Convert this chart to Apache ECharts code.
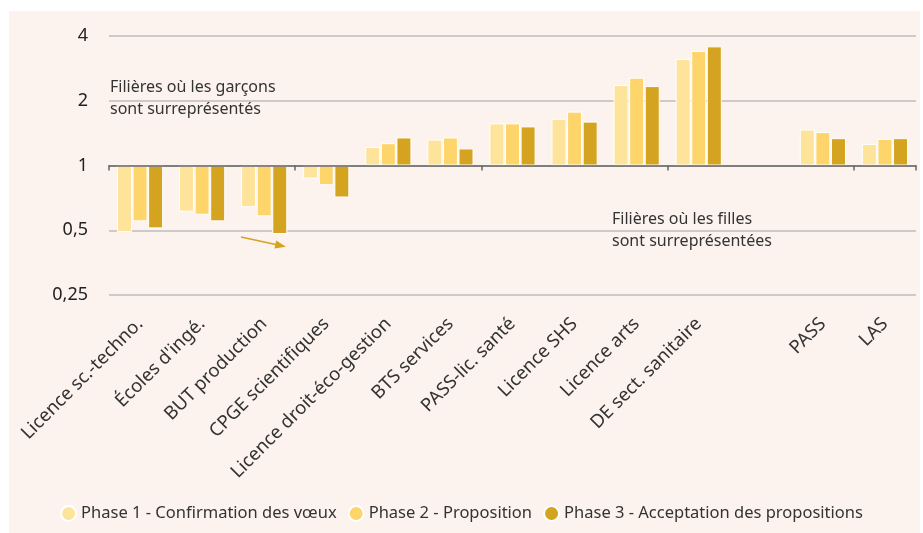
<!DOCTYPE html>
<html>
<head>
<meta charset="utf-8">
<script src="https://cdn.jsdelivr.net/npm/echarts@6/dist/echarts.min.js"></script>
<style>
  html, body { margin: 0; padding: 0; background: #fff; }
  #chart { width: 923px; height: 533px; }
</style>
</head>
<body>
<div id="chart"></div>
<script>
// filières (une catégorie vide sépare PASS / LAS)
const categories = [
  "Licence sc.-techno.", "Écoles d'ingé.", "BUT production", "CPGE scientifiques",
  "Licence droit-éco-gestion", "BTS services", "PASS-lic. santé", "Licence SHS",
  "Licence arts", "DE sect. sanitaire", "", "PASS", "LAS"
];
const phaseNames = [
  "Phase 1 - Confirmation des vœux",
  "Phase 2 - Proposition",
  "Phase 3 - Acceptation des propositions"
];
// ratio filles / garçons
const phase1 = [0.49, 0.61, 0.64, 0.87, 1.22, 1.32, 1.57, 1.65, 2.37, 3.13, null, 1.47, 1.26];
const phase2 = [0.55, 0.59, 0.58, 0.81, 1.27, 1.35, 1.57, 1.78, 2.56, 3.41, null, 1.43, 1.33];
const phase3 = [0.51, 0.55, 0.48, 0.71, 1.35, 1.20, 1.52, 1.60, 2.34, 3.58, null, 1.34, 1.34];
const tickLabels = ["0,25", "0,5", "1", "2", "4"];

const colors = ["#fee39b", "#fdd56b", "#d4a31f"];
const font = "Noto Sans";

// echelle log2 : on trace log2(ratio) sur un axe lineaire, la base des barres est 1
const toLog = (arr) => arr.map(v => (v == null ? "-" : Math.log2(v)));

const mkSeries = (name, arr, i) => ({
  name: name,
  type: "bar",
  xAxisIndex: 0,
  barWidth: 15,
  barGap: "4%",
  itemStyle: { color: colors[i], borderColor: "#fff", borderWidth: 1 },
  data: toLog(arr),
});

const chart = echarts.init(document.getElementById("chart"));
chart.setOption({
  backgroundColor: "#fff",
  animation: false,
  textStyle: { fontFamily: font },
  color: colors,
  grid: { left: 109, right: 7, top: 36, bottom: 238, containLabel: false },
  legend: {
    left: "center",
    top: 500,
    icon: "circle",
    itemWidth: 15,
    itemHeight: 15,
    itemGap: 11,
    textStyle: { fontFamily: font, fontSize: 16.5, color: "#333" },
    data: phaseNames,
  },
  xAxis: [
    {
      type: "category",
      data: categories,
      position: "bottom",
      axisLine: { show: false, onZero: false },
      axisTick: { show: false },
      axisLabel: { rotate: 45, margin: 26, fontSize: 18.5, color: "#333", fontFamily: font, interval: 0 },
    },
    {
      type: "category",
      data: categories,
      position: "bottom",
      axisLine: { show: true, onZero: true, lineStyle: { color: "#666", width: 1.5 } },
      axisTick: { show: true, length: 5, lineStyle: { color: "#666", width: 1.5 } },
      axisLabel: { show: false },
      z: 5,
    },
  ],
  yAxis: {
    type: "value",
    min: -2,
    max: 2,
    interval: 1,
    axisLine: { show: false },
    axisTick: { show: false },
    axisLabel: {
      fontSize: 18,
      color: "#222",
      fontFamily: font,
      margin: 21,
      formatter: (v) => tickLabels[v + 2],
    },
    splitLine: { lineStyle: { color: "#bdbdbd", width: 1.5 } },
  },
  series: [
    mkSeries(phaseNames[0], phase1, 0),
    mkSeries(phaseNames[1], phase2, 1),
    mkSeries(phaseNames[2], phase3, 2),
  ],
  graphic: [
    { type: "rect", z: -10, silent: true, shape: { x: 9, y: 11, width: 911, height: 522 }, style: { fill: "#fdf3ee" } },
    {
      type: "text", left: 110, top: 76, z: 10,
      style: { text: "Filières où les garçons\nsont surreprésentés", fontFamily: font, fontSize: 16, lineHeight: 22, fill: "#333" },
    },
    {
      type: "text", left: 612, top: 208, z: 10,
      style: { text: "Filières où les filles\nsont surreprésentées", fontFamily: font, fontSize: 16, lineHeight: 22, fill: "#333" },
    },
    {
      type: "line", z: 10, silent: true,
      shape: { x1: 241, y1: 237, x2: 277, y2: 244.8 },
      style: { stroke: "#d4a31f", lineWidth: 1.5 },
    },
    {
      type: "polygon", z: 10, silent: true,
      shape: { points: [[286, 246.7], [274.4, 248.4], [276.2, 240.4]] },
      style: { fill: "#d4a31f" },
    },
  ],
});
</script>
</body>
</html>
